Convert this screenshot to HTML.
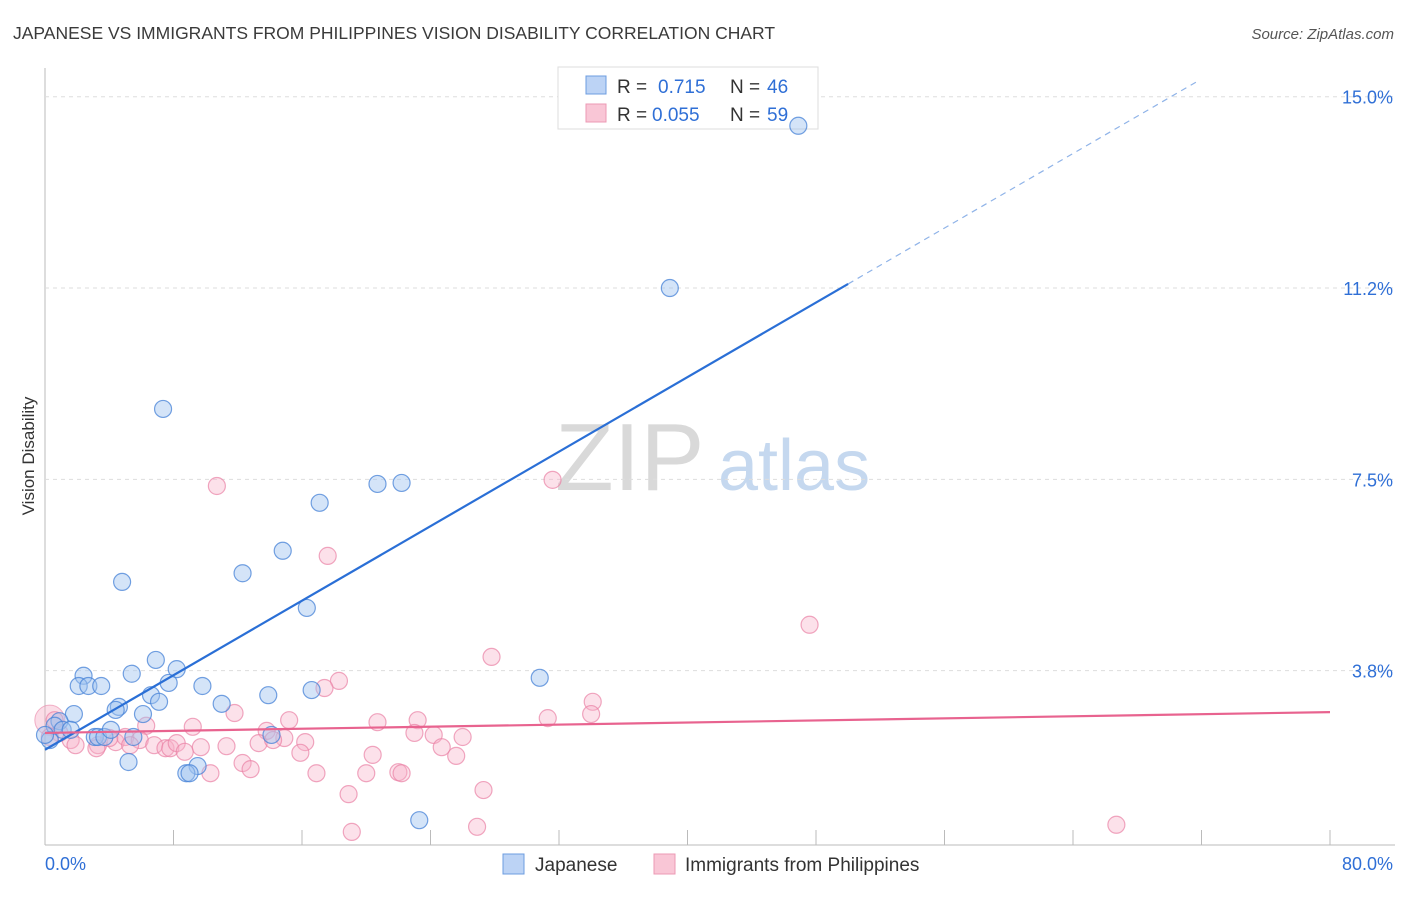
<!DOCTYPE html>
<html><head><meta charset="utf-8"><style>
body{margin:0;background:#fff;font-family:"Liberation Sans",sans-serif}
svg text{font-family:"Liberation Sans",sans-serif}
</style></head><body>
<svg id="chart" width="1406" height="892" viewBox="0 0 1406 892" xmlns="http://www.w3.org/2000/svg">
<text x="13" y="39" font-size="17.5" fill="#3a3a3a">JAPANESE VS IMMIGRANTS FROM PHILIPPINES VISION DISABILITY CORRELATION CHART</text>
<text x="1394" y="39" font-size="15" fill="#555" text-anchor="end" font-style="italic">Source: ZipAtlas.com</text>
<text x="555" y="490" font-size="96" fill="#d9d9d9" font-family="Liberation Serif,serif">ZIP</text>
<text x="718" y="490" font-size="72" fill="#c5d8ef">atlas</text>
<text transform="translate(34,456) rotate(-90)" font-size="17" fill="#333" text-anchor="middle">Vision Disability</text>
<g id="grid"></g>
<g>
<rect x="558" y="67" width="260" height="62" fill="#fff" stroke="#ddd"/>
<rect x="586" y="76" width="20" height="18" fill="#bcd3f5" stroke="#6c9ce0"/>
<rect x="586" y="104" width="20" height="18" fill="#f9c6d6" stroke="#ec9ab4"/>
<text x="617" y="93" font-size="19" fill="#333">R = </text><text x="658" y="93" font-size="19" fill="#2f6fd6">0.715</text>
<text x="730" y="93" font-size="19" fill="#333">N = </text><text x="767" y="93" font-size="19" fill="#2f6fd6">46</text>
<text x="617" y="121" font-size="19" fill="#333">R = </text><text x="652" y="121" font-size="19" fill="#2f6fd6">0.055</text>
<text x="730" y="121" font-size="19" fill="#333">N = </text><text x="767" y="121" font-size="19" fill="#2f6fd6">59</text>
</g>
<g id="pts"></g><g id="lines"></g>
<g>
<rect x="503" y="854" width="21" height="20" fill="#bcd3f5" stroke="#6c9ce0"/>
<text x="535" y="871" font-size="19" fill="#333">Japanese</text>
<rect x="654" y="854" width="21" height="20" fill="#f9c6d6" stroke="#ec9ab4"/>
<text x="685" y="871" font-size="19" fill="#333">Immigrants from Philippines</text>
</g>
</svg>
<script>
const yTicks=[15,11.25,7.5,3.75];
const yTickLabels=["15.0%","11.2%","7.5%","3.8%"];
const xTickLabels=["0.0%","80.0%"];
const blueX=[46.9,38.9,7.35,20.7,22.2,17.1,14.8,12.3,4.8,16.3,6.9,8.2,2.4,5.4,2.1,2.7,3.5,9.8,7.7,6.6,7.1,13.9,16.6,30.8,4.6,4.4,11.0,6.1,1.8,0.9,0.6,1.1,1.6,0.3,3.1,3.3,3.7,4.1,5.5,14.1,5.2,9.5,8.8,9.0,23.3,0.0];
const blueY=[14.43,11.25,8.88,7.41,7.43,7.04,6.10,5.66,5.49,4.98,3.96,3.78,3.65,3.69,3.45,3.45,3.45,3.45,3.51,3.27,3.14,3.27,3.37,3.61,3.04,2.98,3.10,2.90,2.90,2.76,2.67,2.59,2.59,2.39,2.45,2.45,2.45,2.59,2.45,2.49,1.96,1.88,1.74,1.74,0.82,2.49];
const pinkX=[10.7,31.6,17.6,47.6,27.8,18.3,17.4,34.1,31.3,34.0,11.8,15.2,20.7,23.2,6.3,9.2,13.8,23.0,24.2,26.0,14.9,16.2,0.9,1.6,1.9,3.3,4.4,5.0,5.9,6.8,7.5,7.8,8.2,8.7,9.7,11.3,13.3,14.2,15.9,20.4,24.7,25.6,12.3,12.8,16.9,20.0,22.0,22.2,10.3,27.3,18.9,19.1,26.9,66.7,5.3,4.0,0.6,3.2,0.3];
const pinkY=[7.37,7.49,6.00,4.65,4.02,3.55,3.41,3.14,2.82,2.90,2.92,2.78,2.74,2.78,2.67,2.65,2.57,2.53,2.49,2.45,2.43,2.35,2.53,2.39,2.29,2.29,2.35,2.45,2.39,2.29,2.23,2.23,2.33,2.16,2.25,2.27,2.33,2.39,2.14,2.10,2.25,2.08,1.94,1.82,1.74,1.74,1.76,1.74,1.74,1.41,1.33,0.59,0.69,0.73,2.29,2.43,2.78,2.23,2.45];
const blueTrend=[2.2,0.1826];
const pinkTrend=[2.53,0.0051];
const NS='http://www.w3.org/2000/svg';
const sx=v=>45+v*16.0625, sy=v=>862-v*51.02;
function mk(tag,attrs,parent){const e=document.createElementNS(NS,tag);for(const k in attrs)e.setAttribute(k,attrs[k]);parent.appendChild(e);return e;}
const grid=document.getElementById('grid');
let ax=mk('line',{x1:45,y1:68,x2:45,y2:845,stroke:'#bbb'},grid);


let bx=mk('line',{x1:45,y1:845,x2:1395,y2:845,stroke:'#bbb'},grid);


yTicks.forEach((t,i)=>{
 const g=mk('line',{x1:45,y1:sy(t),x2:1395,y2:sy(t),stroke:'#ddd','stroke-dasharray':'4,4'},grid);
 
 
 const tx=mk('text',{x:1393,y:sy(t)+7,'font-size':18,fill:'#2f6fd6','text-anchor':'end'},grid);tx.textContent=yTickLabels[i];
 
 
});
for(let i=1;i<=10;i++){const t=mk('line',{x1:sx(i*8),y1:830,x2:sx(i*8),y2:845,stroke:'#bbb'},grid);
 
 }
[[0,'start',45],[80,'end',1393]].forEach((d,i)=>{const t=mk('text',{x:d[2],y:870,'font-size':18,fill:'#2f6fd6','text-anchor':d[1]},grid);t.textContent=xTickLabels[i];
 
 });
const pts=document.getElementById('pts');
let big=mk('circle',{cx:sx(0.3),cy:sy(2.78),r:15,fill:'rgba(245,170,195,0.4)',stroke:'rgba(233,130,165,0.6)'},pts);


pinkX.forEach((x,i)=>{const c=mk('circle',{cx:sx(x),cy:sy(pinkY[i]),r:8.5,fill:'rgba(247,175,200,0.38)',stroke:'rgba(233,130,165,0.7)','stroke-width':1.2},pts);
 
 });
blueX.forEach((x,i)=>{const c=mk('circle',{cx:sx(x),cy:sy(blueY[i]),r:8.5,fill:'rgba(160,195,240,0.45)',stroke:'rgba(70,130,215,0.75)','stroke-width':1.2},pts);
 
 });
const lines=document.getElementById('lines');
let l1=mk('line',{x1:sx(0),y1:sy(blueTrend[0]),x2:sx(50),y2:sy(blueTrend[0]+50*blueTrend[1]),stroke:'#2a6fd6','stroke-width':2.2},lines);


let l2=mk('line',{x1:sx(50),y1:sy(blueTrend[0]+50*blueTrend[1]),x2:sx(71.8),y2:sy(blueTrend[0]+71.8*blueTrend[1]),stroke:'#8fb3e8','stroke-width':1.2,'stroke-dasharray':'6,5'},lines);


let l3=mk('line',{x1:sx(0),y1:sy(pinkTrend[0]),x2:sx(80),y2:sy(pinkTrend[0]+80*pinkTrend[1]),stroke:'#e8638f','stroke-width':2.2},lines);


</script>
</body></html>
